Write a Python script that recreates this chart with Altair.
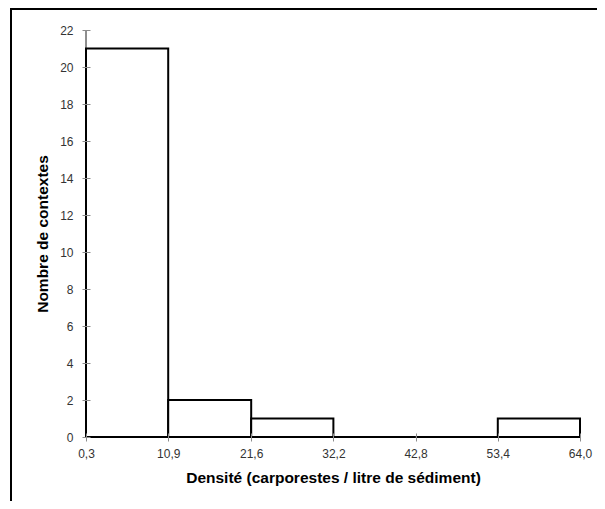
import altair as alt
import pandas as pd

bin_start = [0.3, 10.9, 21.6, 32.2, 42.8, 53.4]
bin_end = [10.9, 21.6, 32.2, 42.8, 53.4, 64.0]
counts = [21, 2, 1, 0, 0, 1]
x_ticks = [0.3, 10.9, 21.6, 32.2, 42.8, 53.4, 64.0]
y_ticks = list(range(0, 23, 2))

df = pd.DataFrame({"start": bin_start, "end": bin_end, "count": counts})

xscale = alt.Scale(domain=[0.3, 64.0], nice=False, zero=False)
yscale = alt.Scale(domain=[0, 22], nice=False)

x_axis = alt.Axis(values=x_ticks, title="Densité (carporestes / litre de sédiment)",
                  labelExpr="replace(format(datum.value, '.1f'), '.', ',')",
                  offset=-4, tickSize=8, domain=False, grid=False, zindex=1,
                  labelFlush=False, labelOverlap=False, labelPadding=7, titlePadding=11)
y_axis = alt.Axis(values=y_ticks, title="Nombre de contextes",
                  offset=-4, tickSize=8, domain=False, grid=False, zindex=1,
                  labelFlush=False, labelOverlap=False, labelPadding=9, titlePadding=9)

ydomain = alt.Chart(df).mark_rule(color="#8c8c8c", strokeWidth=1).encode(
    x=alt.X(datum=0.3, scale=xscale, axis=x_axis),
    y=alt.Y(datum=0, scale=yscale, axis=y_axis),
    y2=alt.datum(22),
)
xdomain = alt.Chart(df).mark_rule(color="#8c8c8c", strokeWidth=1).encode(
    x=alt.X(datum=0.3, scale=xscale, axis=x_axis),
    x2=alt.datum(64.0),
    y=alt.Y(datum=0, scale=yscale, axis=y_axis),
)

bars = alt.Chart(df).mark_rect(fill="white", stroke="black", strokeWidth=2).encode(
    x=alt.X("start:Q", scale=xscale, axis=x_axis),
    x2="end:Q",
    y=alt.Y("count:Q", scale=yscale, axis=y_axis),
    y2=alt.datum(0),
)

frame = alt.Chart(df).mark_rect(fill=None, stroke="black", strokeWidth=1.5).encode(
    x=alt.value(-75), x2=alt.value(700), y=alt.value(-21), y2=alt.value(700)
)

chart = alt.layer(frame, ydomain, xdomain, bars).properties(
    width=494, height=407,
    autosize=alt.AutoSizeParams(type="none"),
    padding={"left": 78, "top": 22, "right": 17, "bottom": 64},
    background="white",
).configure_view(stroke=None).configure_axis(
    labelFont="Liberation Sans", labelFontSize=12, labelColor="#333333",
    tickColor="#8c8c8c", tickWidth=1,
    titleFont="Liberation Sans", titleFontSize=15.5, titleFontWeight="bold", titleColor="black",
)

chart.save("out.html", embed_options={"renderer": "svg", "actions": False})
